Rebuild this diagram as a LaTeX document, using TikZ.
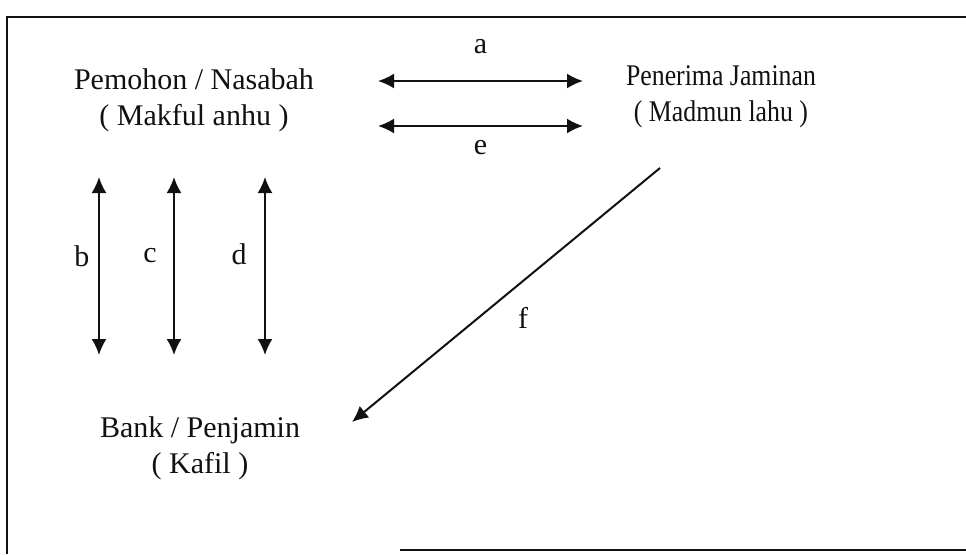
\documentclass[tikz,border=0pt]{standalone}
\usepackage{fontspec}
\setmainfont{Liberation Serif}
\usetikzlibrary{arrows.meta,positioning}
\definecolor{inkblack}{HTML}{111111}
\tikzset{
  >=Latex,
  party/.style={align=center, font=\fontsize{15}{18}\selectfont, text=inkblack, inner sep=0pt},
  tag/.style={font=\fontsize{15}{18}\selectfont, text=inkblack, inner sep=0pt},
  flow/.style={{Latex[length=8pt,width=7.5pt]}-{Latex[length=8pt,width=7.5pt]}, line width=1pt, draw=inkblack},
  oneway/.style={-{Latex[length=8pt,width=7.5pt]}, line width=1pt, draw=inkblack},
  frame/.style={line width=1pt, draw=inkblack}
}

\begin{document}
\begin{tikzpicture}[x=0.5pt, y=-0.5pt]
\useasboundingbox (0,0) rectangle (966,554);
\draw[frame] (966,17) -- (7,17) -- (7,554);
\draw[frame] (400,550) -- (966,550);
\node[party] (nasabah) at (194,100) {Pemohon / Nasabah\\( Makful anhu )};
\node[party, xscale=0.86, transform shape] (penerima) at (721,97) {Penerima Jaminan\\( Madmun lahu )};
\node[party] (bank) at (200,448) {Bank / Penjamin\\( Kafil )};
\coordinate (aL) at (378,81);
\coordinate (aR) at (583,81);
\coordinate (eL) at (378,126);
\coordinate (eR) at (583,126);
\coordinate (bT) at (99,177);
\coordinate (bB) at (99,355);
\coordinate (cT) at (174,177);
\coordinate (cB) at (174,355);
\coordinate (dT) at (265,177);
\coordinate (dB) at (265,355);
\coordinate (fS) at (660,168);
\coordinate (fE) at (352,422);
\draw[flow] (aL) -- (aR) node[tag, midway, yshift=17pt] (la) {a};
\draw[flow] (eL) -- (eR) node[tag, midway, yshift=-11pt] (le) {e};
\draw[flow] (bT) -- (bB) node[tag, midway, xshift=-8.5pt, yshift=5pt] (lb) {b};
\draw[flow] (cT) -- (cB) node[tag, midway, xshift=-12pt, yshift=5pt] (lc) {c};
\draw[flow] (dT) -- (dB) node[tag, midway, xshift=-13pt, yshift=6pt] (ld) {d};
\draw[oneway] (fS) -- (fE) node[tag, midway, xshift=8.5pt, yshift=-11.5pt] (lf) {f};
\end{tikzpicture}
\end{document}
